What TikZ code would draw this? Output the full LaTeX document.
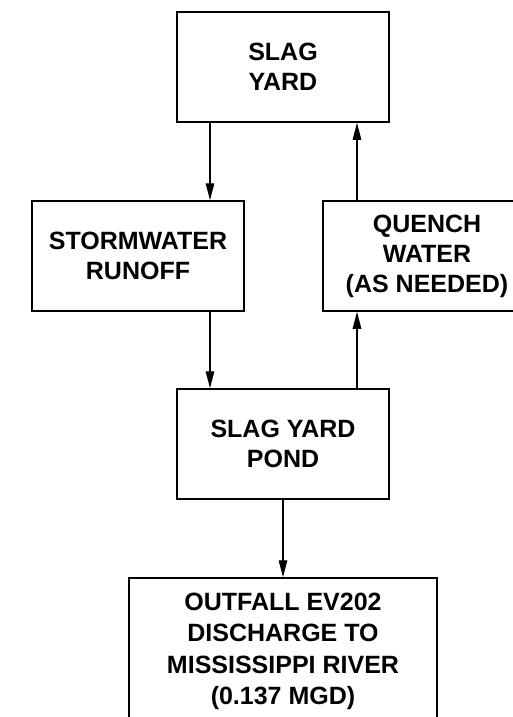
\documentclass[tikz,border=0pt]{standalone}
\usepackage{fontspec}
\setmainfont{Liberation Sans}
\usetikzlibrary{arrows.meta}
\begin{document}
\begin{tikzpicture}[x=1pt,y=-1pt,
  blk/.style={draw, line width=1.5pt, inner sep=0pt, align=center,
    font=\bfseries\fontsize{25}{30}\selectfont},
  flow/.style={line width=1.3pt, -{Triangle[length=17pt,width=8.5pt]}}]
\useasboundingbox (0,0) rectangle (513,717);
\node[blk, minimum width=212pt, minimum height=110pt] (slag) at (283,67) {SLAG\\YARD};
\node[blk, minimum width=212pt, minimum height=110pt] (storm) at (138,256) {STORMWATER\\RUNOFF};
\node[blk, minimum width=208pt, minimum height=110pt] (quench) at (427,256) {QUENCH\\WATER\\(AS NEEDED)};
\node[blk, minimum width=212pt, minimum height=110pt] (pond) at (283,444) {SLAG YARD\\POND};
\node[blk, minimum width=308pt, minimum height=147pt,
  font=\bfseries\fontsize{25}{31.5}\selectfont] (out) at (283,651.5)
  {OUTFALL EV202\\DISCHARGE TO\\MISSISSIPPI RIVER\\(0.137 MGD)};
\coordinate (xl) at (210,0);
\coordinate (xr) at (357,0);
\coordinate (xm) at (283,0);
\draw[flow] (slag.south -| xl) -- (storm.north -| xl);
\draw[flow] (storm.south -| xl) -- (pond.north -| xl);
\draw[flow] (pond.north -| xr) -- (quench.south -| xr);
\draw[flow] (quench.north -| xr) -- (slag.south -| xr);
\draw[flow] (pond.south -| xm) -- (out.north -| xm);
\end{tikzpicture}
\end{document}
